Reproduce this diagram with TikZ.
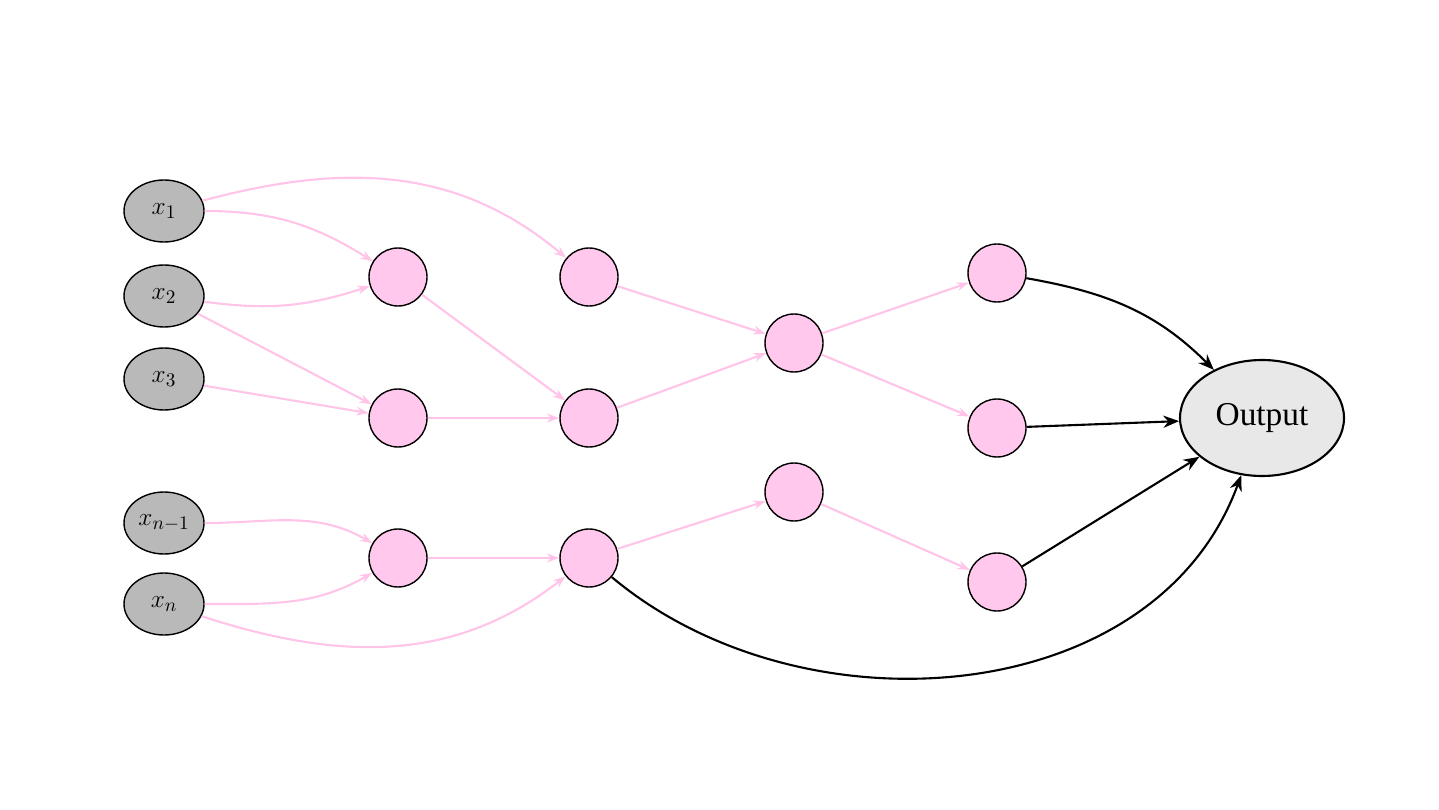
\documentclass[tikz,border=0pt]{standalone}
\usepackage{fontspec}
\setmainfont{Liberation Serif}
\usetikzlibrary{positioning,shapes.geometric,arrows.meta}
\definecolor{pinkfill}{RGB}{255,200,236}
\definecolor{pinkline}{RGB}{255,196,232}
\begin{document}
\begin{tikzpicture}[
  x=0.02cm, y=-0.02cm,
  input/.style={ellipse, draw, thick, fill=gray!55, minimum width=80*0.02cm, minimum height=62*0.02cm, inner sep=0pt, font=\fontsize{15}{15}\selectfont},
  hidden/.style={circle, draw, thick, fill=pinkfill, minimum size=58*0.02cm, inner sep=0pt},
  outnode/.style={ellipse, draw, very thick, fill=gray!18, minimum width=164*0.02cm, minimum height=116*0.02cm, font=\fontsize{19}{19}\selectfont},
  pedge/.style={->, >={Stealth[length=7pt,width=5pt]}, pinkline, very thick},
  bedge/.style={->, >={Stealth[length=9pt,width=7pt]}, black, very thick}
]
\useasboundingbox (0,0) rectangle (1439,810);

% Inputs
\node[input] (x1) at (164,211) {$x_1$};
\node[input] (x2) at (164,296) {$x_2$};
\node[input] (x3) at (164,379) {$x_3$};
\node[input] (xm) at (164,523) {$x_{n-1}$};
\node[input] (xn) at (164,604) {$x_n$};

% Hidden layers
\node[hidden] (a1) at (398,277) {};
\node[hidden] (a2) at (398,418) {};
\node[hidden] (a3) at (398,558) {};
\node[hidden] (b1) at (589,277) {};
\node[hidden] (b2) at (589,418) {};
\node[hidden] (b3) at (589,558) {};
\node[hidden] (c1) at (794,343) {};
\node[hidden] (c2) at (794,492) {};
\node[hidden] (d1) at (997,273) {};
\node[hidden] (d2) at (997,428) {};
\node[hidden] (d3) at (997,582) {};

% Output
\node[outnode] (out) at (1262,418) {Output};

% Pink connections
\draw[pedge] (x1) to[out=0,in=148] (a1);
\draw[pedge] (x1) to[out=15,in=140] (b1);
\draw[pedge] (x2) to[out=-8,in=198] (a1);
\draw[pedge] (x2) -- (a2);
\draw[pedge] (x3) -- (a2);
\draw[pedge] (a1) -- (b2);
\draw[pedge] (a2) -- (b2);
\draw[pedge] (b1) -- (c1);
\draw[pedge] (b2) -- (c1);
\draw[pedge] (c1) -- (d1);
\draw[pedge] (c1) -- (d2);
\draw[pedge] (xm) to[out=0,in=150] (a3);
\draw[pedge] (xn) to[out=0,in=210] (a3);
\draw[pedge] (a3) -- (b3);
\draw[pedge] (xn) to[out=-18,in=218] (b3);
\draw[pedge] (b3) -- (c2);
\draw[pedge] (c2) -- (d3);

% Black connections
\draw[bedge] (d1) to[out=-10,in=135] (out);
\draw[bedge] (d2) -- (out);
\draw[bedge] (d3) -- (out);
\draw[bedge] (b3) to[out=-40,in=-110] (out);
\end{tikzpicture}
\end{document}
